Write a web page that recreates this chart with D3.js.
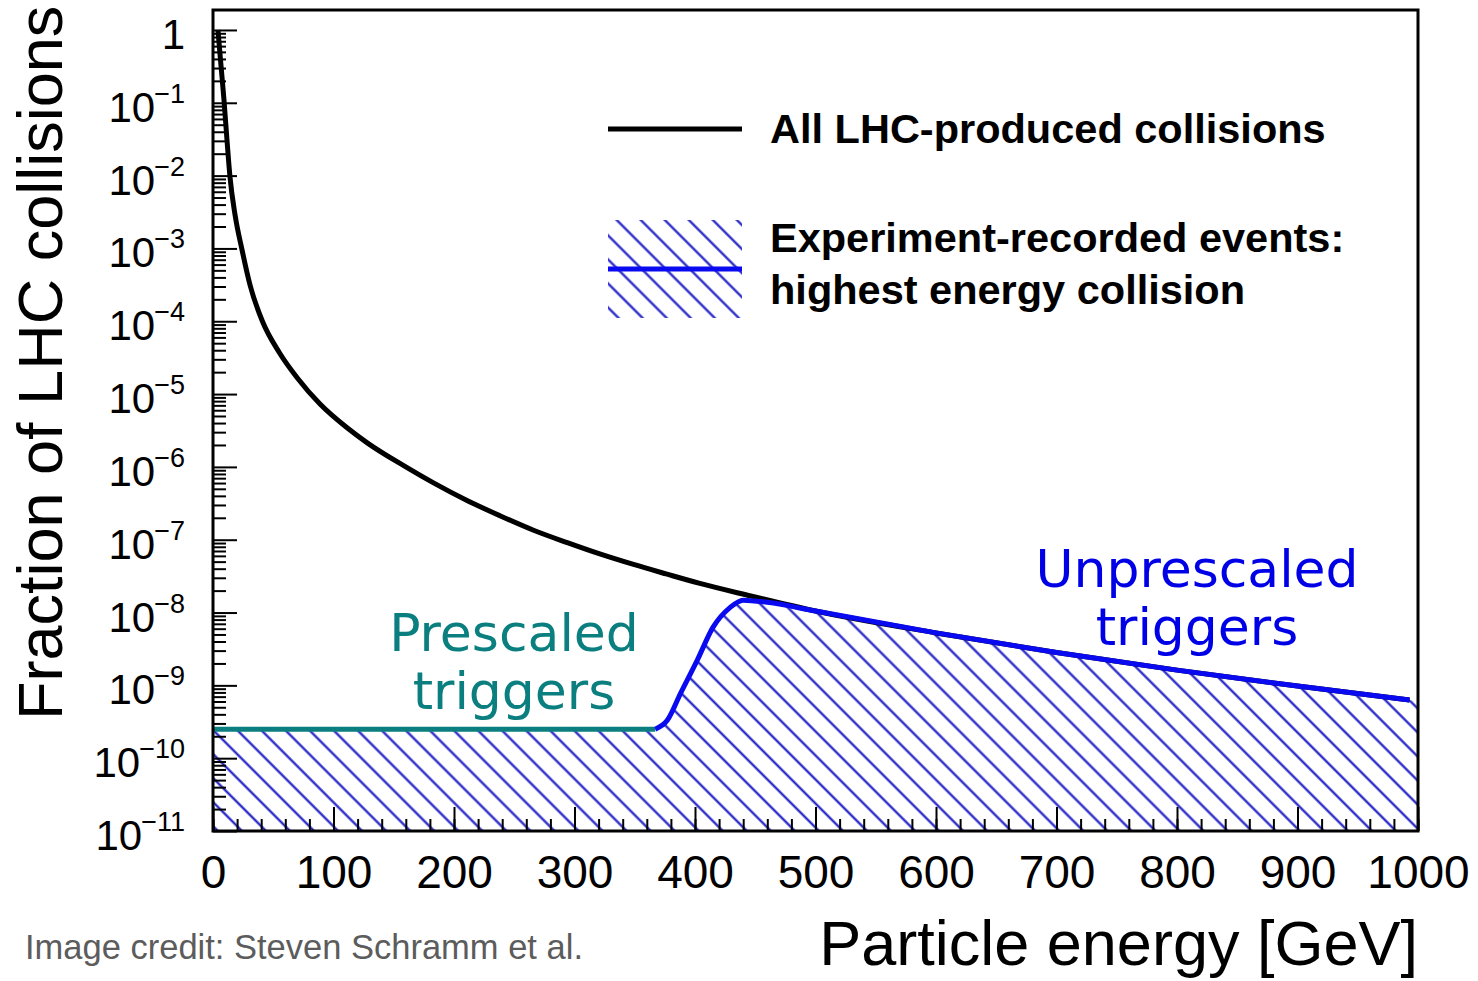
<!DOCTYPE html>
<html><head><meta charset="utf-8">
<script src="https://cdn.jsdelivr.net/npm/d3@7"></script>
<style>
body{margin:0;background:#fff;}
svg{display:block;}
</style></head><body>
<svg id="chart" width="1478" height="981"></svg>
<script>
// ---- data ----
const allEnergy = [4.1, 6.6, 9.1, 11.6, 14.1, 18.3, 24.1, 30.7, 41, 55, 70, 89, 111, 128, 160, 183, 210, 238, 266, 294, 321, 349, 376, 404, 443, 500, 600, 700, 800, 900, 993];
const allFraction = [1, 0.331, 0.110, 0.0309, 0.00955, 0.00288, 9.55e-4, 3.16e-4, 1.0e-4, 3.72e-5, 1.66e-5, 7.24e-6, 3.47e-6, 2.14e-6, 1.0e-6, 6.03e-7, 3.51e-7, 2.14e-7, 1.35e-7, 9.12e-8, 6.38e-8, 4.57e-8, 3.39e-8, 2.51e-8, 1.74e-8, 1.05e-8, 5.25e-9, 2.82e-9, 1.62e-9, 9.77e-10, 6.31e-10];

const prescaledEnergy = [0, 367];
const prescaledFraction = [2.5e-10, 2.5e-10];

const unprescaledEnergy = [367, 377, 388, 402, 415, 429, 440, 460, 500, 600, 700, 800, 900, 993];
const unprescaledFraction = [2.5e-10, 3.31e-10, 7.76e-10, 2.24e-9, 6.31e-9, 1.17e-8, 1.48e-8, 1.38e-8, 1.05e-8, 5.25e-9, 2.82e-9, 1.62e-9, 9.77e-10, 6.31e-10];

const hatchEdgeEnergy = [1000];
const hatchEdgeFraction = [6.1e-10];

const xTickValues = [0, 100, 200, 300, 400, 500, 600, 700, 800, 900, 1000];
const xMinorTickValues = d3.range(0, 1001, 20);
const yTickExponents = [0, -1, -2, -3, -4, -5, -6, -7, -8, -9, -10, -11];

const legendLabels = ["All LHC-produced collisions", "Experiment-recorded events:", "highest energy collision"];
const prescaledLabel = ["Prescaled", "triggers"];
const unprescaledLabel = ["Unprescaled", "triggers"];
const xTitle = "Particle energy [GeV]";
const yTitle = "Fraction of LHC collisions";
const credit = "Image credit: Steven Schramm et al.";

// ---- layout ----
const SANS = "'Liberation Sans', Arial, Helvetica, sans-serif";
const L = 213, R = 1418, T = 10, B = 831;
const svg = d3.select("#chart");
const x = d3.scaleLinear().domain([0, 1000]).range([L, R]);
const y = d3.scaleLog().domain([1e-11, 1.88]).range([B, T]);

const defs = svg.append("defs");
const pat = defs.append("pattern").attr("id", "hatch")
  .attr("patternUnits", "userSpaceOnUse").attr("width", 17).attr("height", 17)
  .attr("patternTransform", "rotate(45)");
pat.append("line").attr("x1", -2).attr("x2", 19).attr("y1", 8.5).attr("y2", 8.5)
  .attr("stroke", "#1c1cc4").attr("stroke-width", 2.2);
defs.append("clipPath").attr("id", "plotclip").append("rect")
  .attr("x", L).attr("y", T).attr("width", R - L).attr("height", B - T);

const plot = svg.append("g").attr("clip-path", "url(#plotclip)");

// hatch area
const recE = prescaledEnergy.concat(unprescaledEnergy.slice(1), hatchEdgeEnergy);
const recF = prescaledFraction.concat(unprescaledFraction.slice(1), hatchEdgeFraction);
const recPts = recE.map((e, i) => [e, recF[i]]);
plot.append("path").datum(recPts)
  .attr("d", d3.area().x(d => x(d[0])).y0(y(1e-11)).y1(d => y(d[1])).curve(d3.curveMonotoneX))
  .attr("fill", "url(#hatch)");

// black curve
const allPts = allEnergy.map((e, i) => [e, allFraction[i]]);
plot.append("path").datum(allPts)
  .attr("d", d3.line().x(d => x(d[0])).y(d => y(d[1])).curve(d3.curveMonotoneX))
  .attr("fill", "none").attr("stroke", "#000").attr("stroke-width", 5);

// teal prescaled
const prePts = prescaledEnergy.map((e, i) => [e, prescaledFraction[i]]);
plot.append("path").datum(prePts)
  .attr("d", d3.line().x(d => x(d[0])).y(d => y(d[1])))
  .attr("fill", "none").attr("stroke", "#0b7f7f").attr("stroke-width", 5);

// blue unprescaled
const unPts = unprescaledEnergy.map((e, i) => [e, unprescaledFraction[i]]);
plot.append("path").datum(unPts)
  .attr("d", d3.line().x(d => x(d[0])).y(d => y(d[1])).curve(d3.curveMonotoneX))
  .attr("fill", "none").attr("stroke", "#0a0af0").attr("stroke-width", 5)
  .attr("stroke-linejoin", "round");

// ---- axes ----
const yMajor = yTickExponents.map(p => Math.pow(10, p));
const yMinor = [];
yTickExponents.forEach(p => { for (let k = 2; k <= 9; k++) { const v = k * Math.pow(10, p); if (v <= 1.88) yMinor.push(v); } });

function styleAxis(g) {
  g.select(".domain").remove();
  g.selectAll(".tick line").attr("stroke", "#000").attr("stroke-width", 2);
}
svg.append("g").attr("transform", `translate(${L},0)`)
  .call(d3.axisLeft(y).tickValues(yMinor).tickSize(-13).tickFormat(""))
  .call(styleAxis);
svg.append("g").attr("transform", `translate(${L},0)`)
  .call(d3.axisLeft(y).tickValues(yMajor).tickSize(-24).tickFormat(""))
  .call(styleAxis);

// y tick labels
const yl = svg.append("g");
yTickExponents.forEach(p => {
  const v = Math.pow(10, p);
  const t = yl.append("text").attr("x", 185).attr("y", y(v) + 19)
    .attr("text-anchor", "end").style("font-family", SANS).style("font-size", "42px").attr("fill", "#000");
  if (p === 0) {
    t.text("1");
  } else {
    t.append("tspan").text("10");
    t.append("tspan").attr("dx", -1).attr("dy", -19).style("font-size", "27px").text("\u2212" + (-p));
  }
});

svg.append("g").attr("transform", `translate(0,${B})`)
  .call(d3.axisBottom(x).tickValues(xMinorTickValues).tickSize(-12).tickFormat(""))
  .call(styleAxis);
const xa = svg.append("g").attr("transform", `translate(0,${B})`)
  .call(d3.axisBottom(x).tickValues(xTickValues).tickSize(-24).tickPadding(24).tickFormat(d3.format("d")))
  .call(styleAxis);
xa.selectAll("text").style("font-size", "46px").attr("fill", "#000").style("font-family", SANS);

// frame
svg.append("rect").attr("x", L).attr("y", T).attr("width", R - L).attr("height", B - T)
  .attr("fill", "none").attr("stroke", "#000").attr("stroke-width", 3);

// titles
svg.append("text").attr("x", R).attr("y", 965).attr("text-anchor", "end")
  .style("font-family", SANS).style("font-size", "63px").attr("fill", "#000").text(xTitle);
svg.append("text").attr("transform", "translate(62,720) rotate(-90)")
  .attr("text-anchor", "start").style("font-family", SANS).style("font-size", "63px").attr("fill", "#000").text(yTitle);
svg.append("text").attr("x", 25).attr("y", 959).style("font-family", SANS).style("font-size", "34.5px")
  .attr("fill", "#5c5c5c").text(credit);

// legend
svg.append("line").attr("x1", 608).attr("x2", 742).attr("y1", 129).attr("y2", 129)
  .attr("stroke", "#000").attr("stroke-width", 5);
svg.append("rect").attr("x", 608).attr("y", 220).attr("width", 134).attr("height", 98)
  .attr("fill", "url(#hatch)");
svg.append("line").attr("x1", 608).attr("x2", 742).attr("y1", 269).attr("y2", 269)
  .attr("stroke", "#0a0af0").attr("stroke-width", 5);
const legY = [143, 252, 304];
legendLabels.forEach((s, i) => {
  svg.append("text").attr("x", 770).attr("y", legY[i]).style("font-family", SANS).style("font-size", "41.5px")
    .style("font-weight", "bold").attr("fill", "#000").text(s);
});

// annotations
const ann = (lines, cx, y0, color) => {
  lines.forEach((s, i) => {
    svg.append("text").attr("x", cx).attr("y", y0 + i * 58).attr("text-anchor", "middle")
      .style("font-family", "'DejaVu Sans', sans-serif").style("font-size", "52px")
      .attr("fill", color).text(s);
  });
};
ann(prescaledLabel, 514, 651, "#0b7f7f");
ann(unprescaledLabel, 1197, 587, "#0000e6");
</script>
</body></html>
